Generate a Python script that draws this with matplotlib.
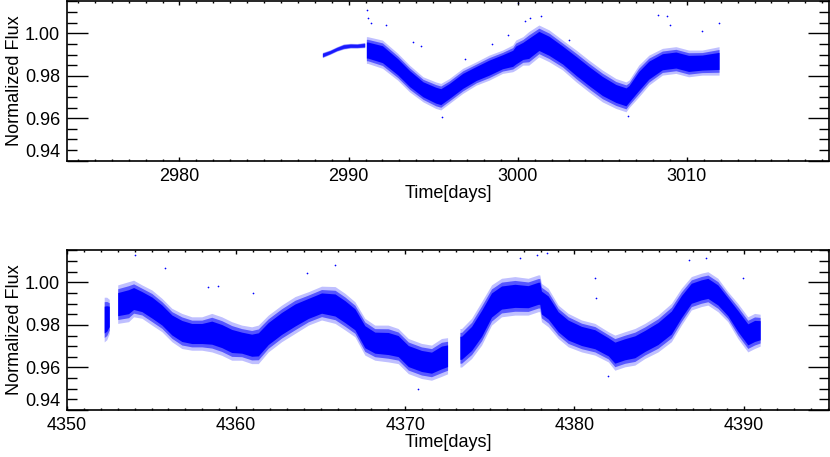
import numpy as np
import matplotlib
matplotlib.use("Agg")
from matplotlib import pyplot as plt
from matplotlib.ticker import MultipleLocator

plt.rcParams['font.family'] = ['Liberation Sans', 'DejaVu Sans']

# --- top panel (sector 1) : band limits ---
t1_early = [2988.45, 2988.9, 2989.3, 2989.7, 2990.1, 2990.5, 2990.95]
lo1_early = [0.9885, 0.9900, 0.9915, 0.9925, 0.9930, 0.9930, 0.9932]
hi1_early = [0.9910, 0.9922, 0.9937, 0.9950, 0.9953, 0.9952, 0.9957]

t1_main = [2991.05, 2991.13, 2992.0, 2992.9, 2993.6, 2994.4, 2995.15, 2995.45,
           2995.95, 2996.75, 2997.55, 2998.3, 2999.1, 2999.7, 2999.88, 3000.3,
           3000.65, 3001.25, 3001.85, 3002.65, 3003.45, 3004.2, 3005.0, 3005.8,
           3006.4, 3006.58, 3007.15, 3007.75, 3008.55, 3009.35, 3010.1, 3010.9,
           3011.9]
hi1_main = [0.9984, 0.9984, 0.9968, 0.9906, 0.9850, 0.9795, 0.9771, 0.9764,
            0.9787, 0.9835, 0.9866, 0.9897, 0.9921, 0.9945, 0.9968, 0.9984,
            1.0008, 1.0039, 1.0016, 0.9968, 0.9921, 0.9874, 0.9827, 0.9787,
            0.9771, 0.9780, 0.9850, 0.9897, 0.9929, 0.9937, 0.9921, 0.9921,
            0.9937]
lo1_main = [0.9858, 0.9858, 0.9835, 0.9779, 0.9724, 0.9677, 0.9646, 0.9639,
            0.9669, 0.9717, 0.9756, 0.9779, 0.9811, 0.9819, 0.9827, 0.9850,
            0.9850, 0.9889, 0.9866, 0.9827, 0.9771, 0.9724, 0.9677, 0.9646,
            0.9630, 0.9650, 0.9700, 0.9756, 0.9803, 0.9811, 0.9795, 0.9803,
            0.9803]

t1_out = [2991.1, 2991.15, 2991.3, 2992.2, 2993.8, 2994.3, 2995.5, 2996.9,
          2998.5, 2999.4, 3000.0, 3000.4, 3000.7, 3001.4, 3003.0, 3006.5,
          3008.3, 3008.8, 3009.0, 3010.9, 3011.9]
f1_out = [1.0110, 1.0070, 1.0050, 1.0040, 0.9960, 0.9940, 0.9606, 0.9880,
          0.9950, 0.9990, 1.0142, 1.0060, 1.0070, 1.0080, 0.9970, 0.9610,
          1.0086, 1.0080, 1.0040, 1.0010, 1.0047]

# --- bottom panel (sector 2) ---
t2_a = [4352.2, 4352.35, 4352.5]
hi2_a = [0.993, 0.993, 0.992]
lo2_a = [0.972, 0.973, 0.976]

t2_b = [4353.0, 4353.64, 4353.94, 4354.43, 4355.02, 4355.61, 4356.2, 4356.79,
        4357.38, 4357.97, 4358.56, 4359.15, 4359.74, 4360.33, 4360.92, 4361.31,
        4361.9, 4362.69, 4363.48, 4364.27, 4365.05, 4365.85, 4366.44, 4367.02,
        4367.61, 4368.2, 4368.99, 4369.58, 4370.18, 4370.96, 4371.55, 4372.14,
        4372.5]
hi2_b = [0.9988, 1.0003, 1.0010, 0.9988, 0.9964, 0.9925, 0.9878, 0.9854,
         0.9838, 0.9838, 0.9854, 0.9838, 0.9815, 0.9799, 0.9791, 0.9799,
         0.9846, 0.9893, 0.9933, 0.9956, 0.9982, 0.9980, 0.9948, 0.9909,
         0.9831, 0.9799, 0.9799, 0.9783, 0.9736, 0.9713, 0.9705, 0.9736,
         0.9740]
lo2_b = [0.9807, 0.9815, 0.9838, 0.9831, 0.9799, 0.9768, 0.9721, 0.9689,
         0.9681, 0.9681, 0.9673, 0.9657, 0.9634, 0.9634, 0.9618, 0.9618,
         0.9673, 0.9721, 0.9760, 0.9799, 0.9823, 0.9807, 0.9776, 0.9744,
         0.9658, 0.9634, 0.9626, 0.9618, 0.9571, 0.9548, 0.9540, 0.9558,
         0.9570]

t2_c = [4373.23, 4373.33, 4373.92, 4374.51, 4375.1, 4375.69, 4376.48, 4377.26,
        4377.86, 4377.95, 4378.05, 4378.45, 4379.04, 4379.63, 4380.42, 4381.21,
        4382.0, 4382.39, 4382.98, 4383.57, 4384.16, 4384.94, 4385.73, 4386.32,
        4386.91, 4387.5, 4387.89, 4388.48, 4389.07, 4389.66, 4390.25, 4390.65,
        4390.98]
hi2_c = [0.9783, 0.9783, 0.9831, 0.9909, 0.9988, 1.0019, 1.0027, 1.0019,
         1.0035, 1.0035, 0.9995, 0.9972, 0.9893, 0.9854, 0.9823, 0.9807,
         0.9768, 0.9752, 0.9768, 0.9783, 0.9807, 0.9846, 0.9901, 0.9972,
         1.0027, 1.0043, 1.0050, 1.0019, 0.9956, 0.9901, 0.9838, 0.9854,
         0.9850]
lo2_c = [0.9602, 0.9602, 0.9642, 0.9705, 0.9799, 0.9838, 0.9846, 0.9846,
         0.9862, 0.9862, 0.9815, 0.9791, 0.9736, 0.9697, 0.9673, 0.9658,
         0.9626, 0.9587, 0.9603, 0.9611, 0.9642, 0.9673, 0.9721, 0.9799,
         0.9870, 0.9886, 0.9893, 0.9862, 0.9815, 0.9736, 0.9673, 0.9689,
         0.9700]

t2_out = [4354.03, 4355.8, 4358.36, 4364.17, 4365.85, 4376.8, 4377.76,
          4370.77, 4378.35, 4381.2, 4381.25, 4386.8, 4387.8, 4382.0, 4389.96,
          4358.9, 4361.0]
f2_out = [1.0129, 1.0069, 0.9980, 1.0043, 1.0082, 1.0113, 1.0129,
          0.9500, 1.0137, 1.0019, 0.9925, 1.0105, 1.0113, 0.9560, 1.0019,
          0.9985, 0.9950]

BLUE = '#0000ff'


def draw_band(ax, t, lo, hi, core=1.0):
    t = np.array(t); lo = np.array(lo); hi = np.array(hi)
    w = hi - lo
    # sparse edges -> dense core
    ax.fill_between(t, lo, hi, color=BLUE, alpha=0.25, lw=0)
    ax.fill_between(t, lo + 0.1 * w, hi - 0.1 * w, color=BLUE, alpha=0.55, lw=0)
    ax.fill_between(t, lo + 0.2 * w, hi - 0.2 * w, color=BLUE, alpha=core, lw=0)


def style(ax, xlim):
    ax.set_xlim(*xlim)
    ax.set_ylim(0.94, 1.0152)
    ax.xaxis.set_major_locator(MultipleLocator(10))
    ax.xaxis.set_minor_locator(MultipleLocator(1))
    ax.set_yticks([0.94, 0.96, 0.98, 1.00])
    ax.yaxis.set_minor_locator(MultipleLocator(0.005))
    ax.yaxis.set_major_formatter(plt.FormatStrFormatter('%.2f'))
    ax.tick_params(axis='both', direction='in', top=True, right=True,
                   which='both', labelsize=13, width=1)
    ax.tick_params(axis='y', which='major', length=15, pad=5)
    ax.tick_params(axis='y', which='minor', length=7)
    ax.tick_params(axis='x', which='major', length=3, pad=5)
    ax.tick_params(axis='x', which='minor', length=1.5)
    for s in ax.spines.values():
        s.set_linewidth(1.2)
    ax.set_xlabel('Time[days]', fontsize=13, labelpad=0)
    ax.set_ylabel('Normalized Flux', fontsize=13, labelpad=1)
    fig.canvas.draw()
    ax.get_yticklabels()[0].set_va('bottom')


fig = plt.figure(figsize=(8.3, 4.57), dpi=100)
ax1 = fig.add_axes([0.0807, 0.6484, 0.9181, 0.3494])
ax2 = fig.add_axes([0.0807, 0.1028, 0.9181, 0.3502])

draw_band(ax1, t1_early, lo1_early, hi1_early, core=0.7)
draw_band(ax1, t1_main, lo1_main, hi1_main)
ax1.scatter(t1_out, f1_out, s=1.5, color=BLUE, lw=0)
style(ax1, (2973.35, 3018.4))

draw_band(ax2, t2_a, lo2_a, hi2_a)
draw_band(ax2, t2_b, lo2_b, hi2_b)
draw_band(ax2, t2_c, lo2_c, hi2_c)
ax2.scatter(t2_out, f2_out, s=1.5, color=BLUE, lw=0)
style(ax2, (4350, 4395.05))

fig.savefig('out.png', dpi=100)
